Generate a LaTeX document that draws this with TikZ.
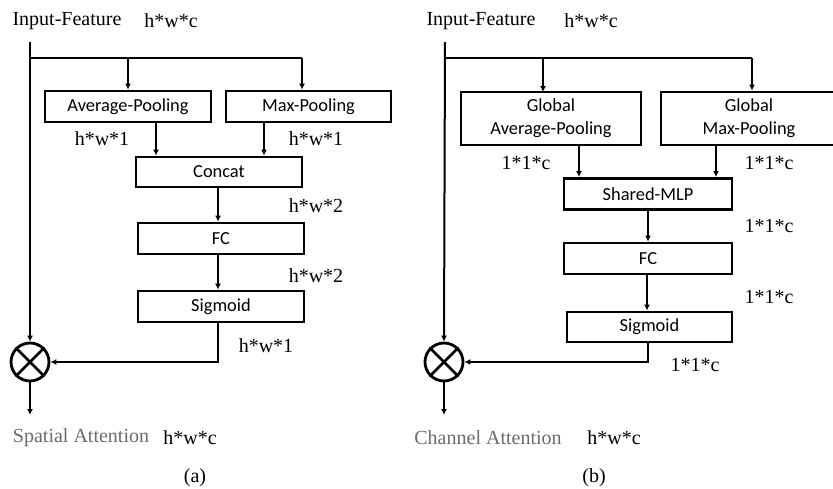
\documentclass[tikz,border=0pt]{standalone}
\usepackage{fontspec}
\setmainfont{Liberation Serif}
\newfontfamily\boxfont{Carlito}
\newfontfamily\dimfont{Liberation Serif}
\usetikzlibrary{arrows.meta}
\definecolor{grisAt}{HTML}{6B6B6B}

\begin{document}
\begin{tikzpicture}[x=1pt,y=-1pt,
    every node/.style={align=center,inner sep=0pt},
    caja/.style={draw,line width=2.8pt,font=\boxfont\fontsize{18.4}{23}\selectfont},
    etiq/.style={font=\dimfont\fontsize{20}{22}\selectfont},
    gris/.style={etiq,text=grisAt},
    mul/.style={draw,circle,line width=2.8pt,minimum size=38pt},
    flecha/.style={line width=2pt,-{Latex[length=6pt,width=6pt]}},
    linea/.style={line width=2pt}]
    \useasboundingbox (0,0) rectangle (833,488);
    % (a) espacial
    \node[etiq] (inA) at (67,21) {Input-Feature};
    \node[etiq] (dimA0) at (171,21) {h*w*c};
    \coordinate (a0) at (30,42);
    \coordinate (aj) at (30,58);
    \node[caja,minimum width=166pt,minimum height=31pt] (avgA) at (128,106.5) {Average-Pooling};
    \node[caja,minimum width=165pt,minimum height=31pt] (maxA) at (308.5,106.5) {Max-Pooling};
    \node[caja,minimum width=166pt,minimum height=30pt] (catA) at (219,172) {Concat};
    \node[caja,minimum width=166pt,minimum height=31pt] (fcA) at (221,238.5) {FC};
    \node[caja,minimum width=166pt,minimum height=31pt] (sigA) at (221,306.5) {Sigmoid};
    \node[mul] (mulA) at (30,362) {};
    \coordinate (outA) at (30,415);
    \draw[line width=2.8pt] (mulA.45) -- (mulA.225) (mulA.135) -- (mulA.315);
    \draw[flecha] (a0) -- (mulA.north);
    \draw[linea] (aj) -- (302,58);
    \draw[flecha] (aj -| avgA.north) -- (avgA.north);
    \draw[flecha] (302,58) -- ([xshift=-6.5pt]maxA.north);
    \draw[flecha] ([xshift=28pt]avgA.south) -- ([xshift=28pt]avgA.south |- catA.north);
    \draw[flecha] ([xshift=-44.5pt]maxA.south) -- ([xshift=-44.5pt]maxA.south |- catA.north);
    \draw[flecha] ([xshift=-1pt]catA.south) -- ([xshift=-1pt]catA.south |- fcA.north);
    \draw[flecha] ([xshift=-3pt]fcA.south) -- ([xshift=-3pt]sigA.north);
    \draw[flecha] ([xshift=-3pt]sigA.south) |- (mulA.east);
    \draw[flecha] (mulA.south) -- (outA);
    \node[etiq] (dA1) at (102,139) {h*w*1};
    \node[etiq] (dA2) at (316,139) {h*w*1};
    \node[etiq] (dA3) at (316,206) {h*w*2};
    \node[etiq] (dA4) at (316,276) {h*w*2};
    \node[etiq] (dA5) at (266,346) {h*w*1};
    \node[gris] (resA) at (81,438) {Spatial Attention};
    \node[etiq] (dimA9) at (190,438) {h*w*c};
    \node[etiq] (capA) at (195,478) {(a)};
    % (b) canal
    \node[etiq] (inB) at (481,21) {Input-Feature};
    \node[etiq] (dimB0) at (591,21) {h*w*c};
    \coordinate (b0) at (445,42);
    \coordinate (bj) at (445,58);
    \node[caja,minimum width=180pt,minimum height=53pt] (gapB) at (551,118.5) {Global\\Average-Pooling};
    \node[caja,minimum width=176pt,minimum height=53pt] (gmpB) at (749,118.5) {Global\\Max-Pooling};
    \node[caja,minimum width=168pt,minimum height=31pt] (mlpB) at (648,194) {Shared-MLP};
    \node[caja,minimum width=168pt,minimum height=31pt] (fcB) at (648,258.5) {FC};
    \node[caja,minimum width=165pt,minimum height=30pt] (sigB) at (649.5,327) {Sigmoid};
    \node[mul] (mulB) at (444,362) {};
    \coordinate (outB) at (444,415);
    \draw[line width=2.8pt] (mulB.45) -- (mulB.225) (mulB.135) -- (mulB.315);
    \draw[flecha] (b0) -- (mulB.north);
    \draw[linea] (bj) -- (752,58);
    \draw[flecha] (bj -| 543,0) -- (543,92);
    \draw[flecha] (752,58) -- ([xshift=3pt]gmpB.north);
    \draw[flecha] ([xshift=28pt]gapB.south) -- ([xshift=28pt]gapB.south |- mlpB.north);
    \draw[flecha] ([xshift=-33pt]gmpB.south) -- ([xshift=-33pt]gmpB.south |- mlpB.north);
    \draw[flecha] (mlpB.south) -- (fcB.north);
    \draw[flecha] ([xshift=-1pt]fcB.south) -- ([xshift=-1pt]fcB.south |- sigB.north);
    \draw[flecha] ([xshift=-1.5pt]sigB.south) |- (mulB.east);
    \draw[flecha] (mulB.south) -- (outB);
    \node[etiq] (dB1) at (526,163) {1*1*c};
    \node[etiq] (dB2) at (769,163) {1*1*c};
    \node[etiq] (dB3) at (769,226) {1*1*c};
    \node[etiq] (dB4) at (769,297) {1*1*c};
    \node[etiq] (dB5) at (695,365) {1*1*c};
    \node[gris] (resB) at (488,438) {Channel Attention};
    \node[etiq] (dimB9) at (614,438) {h*w*c};
    \node[etiq] (capB) at (594,478) {(b)};
\end{tikzpicture}
\end{document}
